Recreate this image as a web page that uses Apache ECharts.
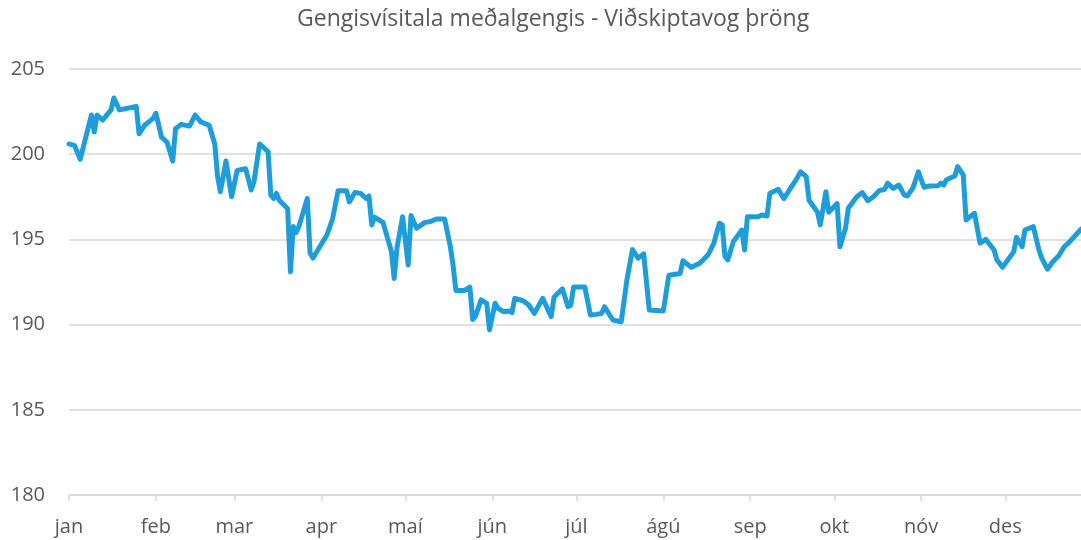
<!DOCTYPE html>
<html>
<head>
<meta charset="utf-8">
<script src="https://cdn.jsdelivr.net/npm/echarts@6/dist/echarts.min.js"></script>
<style>
    html, body { margin: 0; padding: 0; background: #fff; }
    #chart { width: 1081px; height: 540px; }
</style>
</head>
<body>
<div id="chart"></div>
<script>
// day of year (0 = 1 jan) and index value
const days = [
    0, 2, 4, 8, 9, 10, 12, 15, 16, 18, 24, 25, 27, 30, 31, 33, 35, 37, 38, 40,
    43, 45, 47, 50, 52, 53, 54, 56, 58, 60, 63, 65, 66, 68, 71, 72, 73, 74, 75, 78,
    79, 80, 81, 82, 85, 86, 87, 92, 94, 96, 99, 100, 102, 104, 106, 107, 108, 109, 112, 115,
    116, 117, 119, 121, 122, 124, 127, 129, 131, 134, 136, 137, 138, 141, 143, 144, 145, 147, 149, 150,
    152, 153, 155, 157, 158, 159, 162, 164, 166, 169, 172, 173, 176, 178, 179, 180, 184, 186, 188, 190,
    191, 194, 197, 199, 201, 203, 205, 207, 212, 214, 218, 219, 222, 225, 228, 230, 232, 233, 234, 235,
    237, 240, 241, 242, 246, 247, 249, 250, 253, 255, 257, 259, 261, 263, 264, 267, 268, 270, 271, 274,
    275, 277, 278, 281, 283, 285, 287, 289, 291, 292, 294, 296, 298, 299, 301, 303, 305, 307, 310, 311,
    312, 313, 316, 317, 319, 320, 323, 325, 327, 330, 331, 333, 337, 338, 340, 341, 344, 346, 347, 349,
    351, 353, 355, 357, 361
];
const values = [
    200.6, 200.5, 199.7, 202.3, 201.3, 202.3, 202.0, 202.6, 203.3, 202.6, 202.8, 201.2, 201.7, 202.1, 202.4, 201.0, 200.7, 199.6, 201.5, 201.75,
    201.65, 202.3, 201.9, 201.7, 200.6, 198.7, 197.8, 199.6, 197.5, 199.05, 199.15, 197.9, 198.4, 200.6, 200.15, 197.6, 197.4, 197.7, 197.3, 196.8,
    193.1, 195.75, 195.4, 195.75, 197.4, 194.2, 193.9, 195.26, 196.2, 197.85, 197.85, 197.2, 197.75, 197.7, 197.4, 197.55, 195.85, 196.3, 196.0, 194.3,
    192.7, 194.5, 196.33, 193.5, 196.4, 195.65, 196.0, 196.05, 196.2, 196.2, 194.6, 193.5, 192.0, 192.0, 192.2, 190.3, 190.5, 191.45, 191.25, 189.7,
    191.25, 190.96, 190.76, 190.8, 190.7, 191.54, 191.4, 191.15, 190.66, 191.54, 190.47, 191.6, 192.1, 191.05, 191.15, 192.2, 192.2, 190.56, 190.6, 190.66,
    191.05, 190.27, 190.17, 192.6, 194.4, 193.9, 194.15, 190.86, 190.8, 192.9, 193.0, 193.75, 193.36, 193.6, 194.1, 194.77, 195.95, 195.85, 194.0, 193.8,
    194.87, 195.55, 194.38, 196.33, 196.33, 196.43, 196.37, 197.7, 197.94, 197.4, 197.9, 198.4, 198.97, 198.68, 197.3, 196.6, 195.85, 197.8, 196.6, 197.1,
    194.57, 195.65, 196.83, 197.5, 197.75, 197.27, 197.5, 197.86, 197.94, 198.3, 198.0, 198.19, 197.6, 197.55, 198.0, 198.97, 198.06, 198.13, 198.15, 198.3,
    198.19, 198.5, 198.72, 199.27, 198.78, 196.14, 196.53, 194.77, 195.0, 194.38, 193.8, 193.36, 194.28, 195.12, 194.57, 195.55, 195.75, 194.38, 193.9, 193.25,
    193.7, 194.03, 194.57, 194.87, 195.6
];
const months = ["jan", "feb", "mar", "apr", "maí", "jún", "júl", "ágú", "sep", "okt", "nóv", "des"];
// first day of each month, as day of year
const monthStarts = [0, 31, 59, 90, 120, 151, 181, 212, 243, 273, 304, 334];

const seriesData = days.map((d, i) => [d, values[i]]);

const chart = echarts.init(document.getElementById("chart"));
chart.setOption({
    animation: false,
    textStyle: { fontFamily: "Open Sans" },
    title: {
        text: "Gengisvísitala meðalgengis - Viðskiptavog þröng",
        left: 292,
        top: 3,
        textStyle: {
            color: "#595959",
            fontSize: 23,
            fontWeight: "normal",
            fontFamily: "Open Sans",
        },
    },
    grid: {
        left: 69,
        right: 0,
        top: 69,
        bottom: 45,
    },
    xAxis: {
        type: "value",
        min: 0,
        max: 361,
        axisLine: { lineStyle: { color: "#d9d9d9", width: 1.5 } },
        axisTick: {
            show: true,
            length: 6,
            customValues: monthStarts,
            lineStyle: { color: "#d9d9d9", width: 1.5 },
        },
        axisLabel: {
            customValues: monthStarts,
            color: "#595959",
            fontSize: 20,
            margin: 22,
            formatter: (v) => months[monthStarts.indexOf(v)],
        },
        splitLine: { show: false },
    },
    yAxis: {
        type: "value",
        min: 180,
        max: 205,
        interval: 5,
        axisLine: { show: false },
        axisTick: { show: false },
        axisLabel: {
            color: "#595959",
            fontSize: 20,
            margin: 24,
        },
        splitLine: { lineStyle: { color: "#d9d9d9", width: 1.5 } },
    },
    series: [
        {
            type: "line",
            data: seriesData,
            showSymbol: false,
            symbol: "none",
            lineStyle: {
                color: "#1f9ddb",
                width: 5,
                join: "round",
                cap: "round",
            },
        },
    ],
});
</script>
</body>
</html>
